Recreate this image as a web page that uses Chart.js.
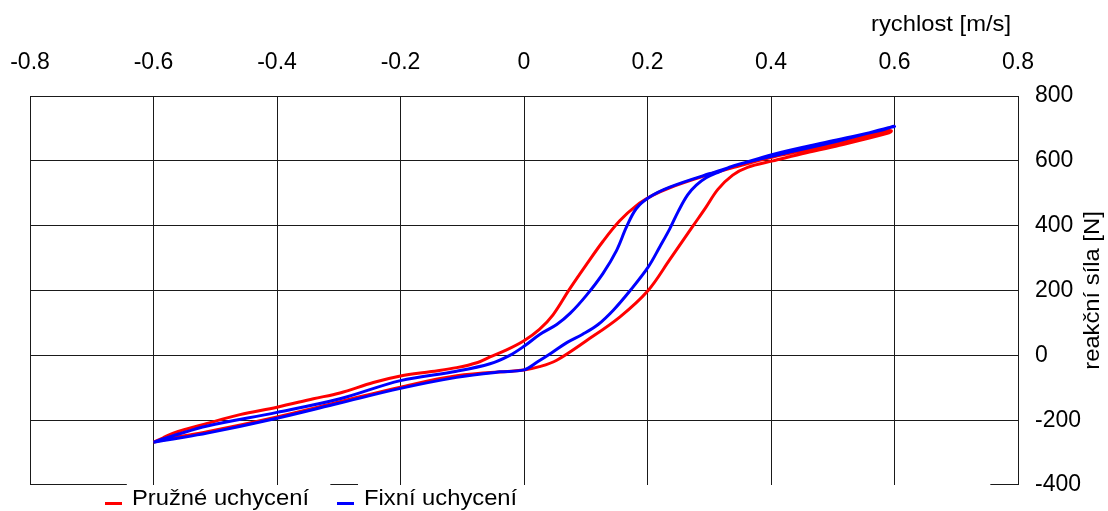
<!DOCTYPE html>
<html>
<head>
<meta charset="utf-8">
<script src="https://cdn.jsdelivr.net/npm/chart.js@4"></script>
<style>
  html, body { margin: 0; padding: 0; background: #fff; }
  canvas { display: block; }
</style>
</head>
<body>
<canvas id="chart" width="1108" height="511"></canvas>
<script>
// Pružné uchycení - hysteresis loop (velocity m/s, force N)
const redVel = [
  -0.600, -0.585, -0.568, -0.513, -0.460, -0.400, -0.341, -0.298, -0.244, -0.200,
  -0.150, -0.109, -0.075, -0.055, -0.030, 0.000, 0.025, 0.047, 0.074, 0.101,
  0.128, 0.155, 0.182, 0.209, 0.236, 0.290, 0.340, 0.403, 0.500, 0.587,
  0.595, 0.587, 0.511, 0.450, 0.403, 0.362, 0.338, 0.314, 0.294, 0.274,
  0.236, 0.201, 0.155, 0.101, 0.053, 0.025, 0.000, -0.109, -0.200, -0.300,
  -0.400, -0.513, -0.568, -0.600
];
const redForce = [
  -268, -255, -240, -210, -183, -160, -134, -116, -84, -64,
  -50, -38, -22, -5, 15, 45, 80, 125, 205, 280,
  352, 415, 462, 494, 517, 552, 580, 612, 650, 693,
  692, 684, 648, 622, 600, 580, 556, 512, 455, 400,
  295, 200, 118, 45, -15, -35, -45, -63, -98, -144,
  -190, -236, -254, -268
];

// Fixní uchycení
const blueVel = [
  -0.600, -0.585, -0.568, -0.513, -0.400, -0.298, -0.200, -0.109, -0.055, -0.023,
  0.000, 0.026, 0.053, 0.075, 0.101, 0.128, 0.150, 0.166, 0.182, 0.204,
  0.236, 0.300, 0.403, 0.500, 0.580, 0.597, 0.600, 0.590, 0.500, 0.403,
  0.340, 0.317, 0.295, 0.279, 0.265, 0.250, 0.236, 0.220, 0.201, 0.172,
  0.145, 0.120, 0.095, 0.070, 0.045, 0.022, 0.000, -0.039, -0.109, -0.200,
  -0.300, -0.400, -0.513, -0.568, -0.600
];
const blueForce = [
  -268, -258, -248, -218, -176, -134, -78, -49, -26, 0,
  28, 65, 95, 130, 185, 253, 324, 396, 453, 489,
  519, 560, 620, 662, 695, 706, 706, 702, 657, 615,
  585, 567, 548, 525, 495, 445, 390, 335, 272, 200,
  140, 95, 65, 40, 8, -20, -45, -51, -68, -102,
  -148, -194, -240, -258, -268
];

const seriesNames = ["Pružné uchycení", "Fixní uchycení"];
const xTitle = "rychlost [m/s]";
const yTitle = "reakční síla [N]";

const FONT = "'Liberation Sans', Arial, sans-serif";
const fontSpec = { family: FONT, size: 23 };
const STRETCH = 1.08; // reference text is slightly wide

const toPoints = (xs, ys) => xs.map((x, i) => ({ x: x, y: ys[i] }));

function stretchedText(ctx, text, x, y, align) {
  ctx.save();
  ctx.translate(x, y);
  ctx.scale(STRETCH, 1);
  ctx.textAlign = align;
  ctx.fillText(text, 0, 0);
  ctx.restore();
}

// frame, axis titles and legend drawn by hand
const extras = {
  id: "extras",
  afterDraw(chart) {
    const ctx = chart.ctx;
    const a = chart.chartArea;
    ctx.save();

    // bottom border, broken where the legend sits
    ctx.strokeStyle = "#1a1a1a";
    ctx.lineWidth = 1;
    const w = a.right - a.left;
    const segs = [[0, 0.098], [0.304, 0.332], [0.972, 1]];
    const yb = Math.round(a.bottom) - 0.5;
    segs.forEach(([s, e]) => {
      ctx.beginPath();
      ctx.moveTo(a.left + s * w, yb);
      ctx.lineTo(a.left + e * w, yb);
      ctx.stroke();
    });

    ctx.fillStyle = "#000";
    ctx.font = "22px " + FONT;
    ctx.textBaseline = "middle";

    // x title, top right
    stretchedText(ctx, xTitle, a.right - 7, 25, "right");

    // y axis title, reading upwards
    ctx.save();
    ctx.translate(1093, (a.top + a.bottom) / 2);
    ctx.rotate(-Math.PI / 2);
    stretchedText(ctx, yTitle, 0, 0, "center");
    ctx.restore();
    ctx.restore();

    // legend
    ctx.save();
    ctx.font = "22px " + FONT;
    ctx.textBaseline = "alphabetic";
    ctx.fillStyle = "#000";
    const legendX = [105, 337];
    chart.data.datasets.forEach((ds, i) => {
      const x0 = legendX[i];
      ctx.strokeStyle = ds.borderColor;
      ctx.lineWidth = 3;
      ctx.beginPath();
      ctx.moveTo(x0, 503.5);
      ctx.lineTo(x0 + 17, 503.5);
      ctx.stroke();
      stretchedText(ctx, ds.label, x0 + 27, 505, "left");
    });
    ctx.restore();
  }
};

new Chart(document.getElementById("chart"), {
  type: "scatter",
  data: {
    datasets: [
      {
        label: seriesNames[0],
        data: toPoints(redVel, redForce),
        showLine: true,
        borderColor: "#ff0000",
        borderWidth: 3,
        pointRadius: 0,
        tension: 0.35,
        order: 1
      },
      {
        label: seriesNames[1],
        data: toPoints(blueVel, blueForce),
        showLine: true,
        borderColor: "#0000ff",
        borderWidth: 3,
        pointRadius: 0,
        tension: 0.35,
        order: 0
      }
    ]
  },
  options: {
    responsive: false,
    animation: false,
    layout: { padding: { left: 30, right: 0, top: 0, bottom: 26 } },
    plugins: {
      legend: { display: false },
      tooltip: { enabled: false }
    },
    scales: {
      x: {
        type: "linear",
        position: "top",
        min: -0.8,
        max: 0.8,
        ticks: { stepSize: 0.2, color: "#000", font: fontSpec, padding: 20, maxRotation: 0 },
        grid: { color: "#1a1a1a", lineWidth: 1, drawTicks: false },
        border: { display: false },
        afterFit(scale) {
          scale.height = 96;
          scale.paddingLeft = 0;
          scale.paddingRight = 0;
        }
      },
      y: {
        type: "linear",
        position: "right",
        min: -400,
        max: 800,
        ticks: { stepSize: 200, color: "#000", font: fontSpec, padding: 17 },
        grid: {
          color: (c) => (c.tick && c.tick.value === -400 ? "rgba(0,0,0,0)" : "#1a1a1a"),
          lineWidth: 1,
          drawTicks: false
        },
        border: { display: false },
        afterFit(scale) {
          scale.width = 90;
          scale.paddingTop = 0;
          scale.paddingBottom = 0;
        }
      }
    }
  },
  plugins: [extras]
});
</script>
</body>
</html>
